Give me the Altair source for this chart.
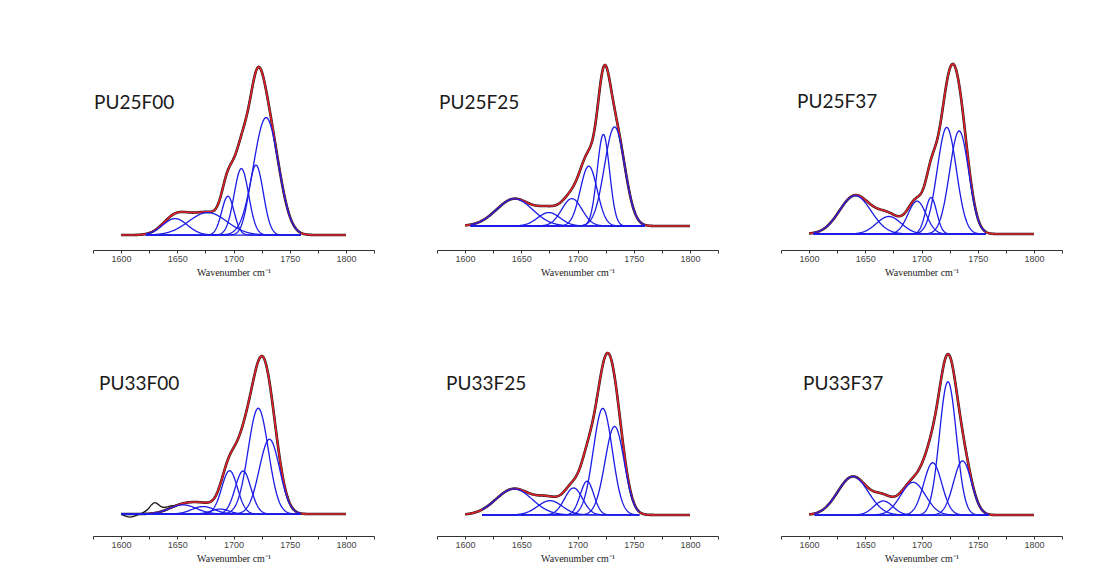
import altair as alt
import numpy as np
import pandas as pd

# ---- peak-fit results for the carbonyl region (C=O stretch) ----
samples = ["PU25F00", "PU25F25", "PU25F37", "PU33F00", "PU33F25", "PU33F37"]

# band centres (cm-1)
centres = {
    "PU25F00": [1648, 1677, 1695, 1707, 1720, 1729],
    "PU25F25": [1644, 1674.5, 1695, 1710, 1723, 1733],
    "PU25F37": [1641, 1671, 1696, 1708.5, 1722.5, 1733.5],
    "PU33F00": [1655, 1673, 1688, 1696.5, 1708.5, 1722, 1732],
    "PU33F25": [1643.5, 1675.5, 1696.5, 1708.5, 1722.5, 1733],
    "PU33F37": [1639, 1666, 1692.5, 1710, 1723.5, 1736.5],
}
# band heights (a.u.)
heights = {
    "PU25F00": [0.095, 0.13, 0.225, 0.385, 0.405, 0.68],
    "PU25F25": [0.16, 0.079, 0.161, 0.352, 0.538, 0.582],
    "PU25F37": [0.215, 0.098, 0.184, 0.204, 0.596, 0.576],
    "PU33F00": [0.055, 0.045, 0.03, 0.26, 0.258, 0.634, 0.448],
    "PU33F25": [0.15, 0.082, 0.155, 0.194, 0.612, 0.509],
    "PU33F37": [0.232, 0.085, 0.197, 0.315, 0.803, 0.326],
}
# band widths, Gaussian sigma (cm-1)
sigmas = {
    "PU25F00": [11, 17, 5.5, 6.5, 6.5, 11],
    "PU25F25": [16, 10, 9, 7.5, 5.5, 9],
    "PU25F37": [14, 11, 8, 5, 8.5, 8.5],
    "PU33F00": [12, 10, 8, 7, 7, 9, 9],
    "PU33F25": [16, 11, 8, 6, 8.5, 8.5],
    "PU33F37": [13.5, 8.5, 11, 8, 7.5, 8],
}
# wavenumber window in which the individual bands were fitted
fit_window = {
    "PU25F00": (1622, 1760),
    "PU25F25": (1605, 1760),
    "PU25F37": (1604, 1757),
    "PU33F00": (1600, 1760),
    "PU33F25": (1615, 1755),
    "PU33F37": (1605, 1760),
}
# measured trace of PU33F00 where it departs from the fit (low-frequency side)
pu33f00_raw_x = [1600, 1604, 1608, 1612, 1616, 1620, 1624, 1627, 1630, 1633, 1636, 1639, 1642, 1646, 1650]
pu33f00_raw_y = [0.0, -0.012, -0.018, -0.012, -0.002, 0.01, 0.03, 0.055, 0.068, 0.058, 0.043, 0.040, 0.045, 0.05, 0.052]

# ---- presentation ----
x_domain = [1575, 1825]
# vertical extent of each panel, as a fraction of its fitted maximum
y_extent = {
    "PU25F00": [-0.089, 1.101],
    "PU25F25": [-0.149, 1.093],
    "PU25F37": [-0.094, 1.082],
    "PU33F00": [-0.139, 1.127],
    "PU33F25": [-0.130, 1.105],
    "PU33F37": [-0.130, 1.112],
}
label_pos = {
    "PU25F00": (1, 53), "PU25F25": (2, 53), "PU25F37": (16, 52),
    "PU33F00": (6, 48), "PU33F25": (9, 48), "PU33F37": (22, 48),
}
PANEL_W, PANEL_H = 281, 200
BLUE, RED, BLACK = "#1c1ce6", "#e3212b", "#1a1a1a"

step = 0.5
full_grid = np.arange(1600, 1800 + step, step)


def gaussian(x, c, h, s):
    return h * np.exp(-0.5 * ((x - c) / s) ** 2)


def panel(name):
    cs, hs, ss = centres[name], heights[name], sigmas[name]
    lo, hi = fit_window[name]

    # individual bands
    rows = []
    band_grid = full_grid[(full_grid >= lo) & (full_grid <= hi)]
    for i, (c, h, s) in enumerate(zip(cs, hs, ss)):
        for xv, yv in zip(band_grid, gaussian(band_grid, c, h, s)):
            rows.append({"wn": float(xv), "a": float(yv), "band": i})
    bands = pd.DataFrame(rows)

    # cumulative fit
    total = sum(gaussian(full_grid, c, h, s) for c, h, s in zip(cs, hs, ss))
    fit = pd.DataFrame({"wn": full_grid, "a": total})
    peak = float(total.max())
    y_dom = [y_extent[name][0] * peak, y_extent[name][1] * peak]

    x = alt.X(
        "wn:Q",
        scale=alt.Scale(domain=x_domain, nice=False, zero=False),
        axis=alt.Axis(
            values=list(range(1575, 1826, 25)),
            labelExpr="datum.value % 50 == 0 ? datum.label : ''",
            format="d",
            title="Wavenumber cm⁻¹",
            grid=False,
            domainColor="#333333",
            tickColor="#333333",
            tickSize=3,
            labelFont="Liberation Sans",
            labelFontSize=9,
            labelColor="#444444",
            labelPadding=1,
            titleFont="Liberation Serif",
            titleFontSize=10,
            titleFontWeight="normal",
            titleColor="#222222",
            titlePadding=4,
        ),
    )
    y = alt.Y("a:Q", scale=alt.Scale(domain=y_dom, nice=False, zero=False), axis=None)

    measured = alt.Chart(fit).mark_line(color=BLACK, strokeWidth=2.6).encode(x=x, y=y)
    layers = [measured]
    if name == "PU33F00":
        raw = pd.DataFrame({"wn": pu33f00_raw_x, "a": pu33f00_raw_y})
        layers.append(alt.Chart(raw).mark_line(color=BLACK, strokeWidth=1.3, interpolate="monotone").encode(x=x, y=y))
    envelope = alt.Chart(fit).mark_line(color=RED, strokeWidth=1.6).encode(x=x, y=y)
    components = alt.Chart(bands).mark_line(color=BLUE, strokeWidth=1.3).encode(
        x=x, y=y, detail="band:N"
    )
    lx, ly = label_pos[name]
    label = alt.Chart(pd.DataFrame({"t": [name]})).mark_text(
        align="left", baseline="middle", font="Lato", fontSize=19, color="#1a1a1a"
    ).encode(text="t:N", x=alt.value(lx), y=alt.value(ly))

    return alt.layer(*layers, envelope, components, label).properties(width=PANEL_W, height=PANEL_H)


top = alt.hconcat(*[panel(n) for n in samples[:3]], spacing=61)
bottom = alt.hconcat(*[panel(n) for n in samples[3:]], spacing=61)

chart = (
    alt.vconcat(top, bottom, spacing=59)
    .properties(padding={"left": 92, "top": 50, "right": 0, "bottom": 0}, background="white")
    .configure_view(stroke=None)
)

chart.save("out.html", embed_options={"renderer": "svg", "actions": False})
